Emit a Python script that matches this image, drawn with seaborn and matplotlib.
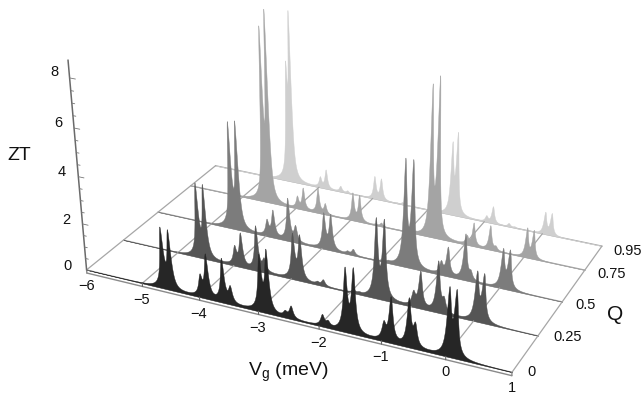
import numpy as np
import matplotlib
matplotlib.use("Agg")
import matplotlib.pyplot as plt
import seaborn as sns
from mpl_toolkits.mplot3d import Axes3D  # noqa
from mpl_toolkits.mplot3d.art3d import Poly3DCollection

# ---------- data ----------
q_rows = [0.95, 0.75, 0.5, 0.25, 0]
q_labels = ["0.95", "0.75", "0.5", "0.25", "0"]
v_ticks = [-6, -5, -4, -3, -2, -1, 0, 1]
v_labels = ["\u22126", "\u22125", "\u22124", "\u22123", "\u22122", "\u22121", "0", "1"]
z_ticks = [0, 2, 4, 6, 8]
centers_front = [-4.63, -4.5, -3.98, -3.87, -3.6, -3.47, -2.97, -2.85, -2.56, -2.46,
                 -1.95, -1.86, -1.58, -1.45, -0.97, -0.86, -0.58, -0.48, 0.03, 0.14]
centers_q075 = [-4.6, -4.5, -3.98, -3.87, -3.6, -3.47, -2.97, -2.85, -2.56, -2.46,
                -1.95, -1.86, -1.6, -1.48, -0.97, -0.86, -0.58, -0.48, 0.03, 0.14]
centers_q095 = [-4.59, -4.52, -3.98, -3.87, -3.6, -3.47, -2.97, -2.85, -2.56, -2.46,
                -1.95, -1.86, -1.59, -1.5, -0.97, -0.86, -0.58, -0.48, 0.03, 0.14]
heights_q000 = [2.45, 2.4, .8, 1.8, 1.8, .65, 2.2, 2.5, .2, .5, .45, .2, 2.5, 2.55, .65, 1.8, 1.9, .85, 2.6, 2.55]
heights_q025 = [3.05, 3.05, .75, 1.4, 1.9, .5, 1.85, 1.85, .1, .25, .1, .05, 3.2, 3.2, .55, 1.5, 2.1, .5, 1.95, 1.9]
heights_q050 = [4.45, 4.55, .65, 1.15, 1.85, .65, 1.5, 1.5, .1, .25, .05, .05, 4.4, 4.4, .5, 1.2, 1.95, .3, 1.6, 1.6]
heights_q075 = [7.2, 8.0, .5, .95, 1.1, .45, 1.2, 1.15, .05, .15, .03, .03, 6.3, 6.7, .35, 1.0, 1.05, .15, 1.25, 1.2]
heights_q095 = [4.5, 7.1, .45, .85, .25, .1, 1.0, .95, .03, .1, .02, .02, 3.0, 3.5, .25, .75, .15, .05, .95, .95]
row_heights = [heights_q095, heights_q075, heights_q050, heights_q025, heights_q000]
row_centers = [centers_q095, centers_q075, centers_front, centers_front, centers_front]
row_widths = [.028, .028, .033, .035, .037]

# ---------- style ----------
W, H = 643, 399
sns.set_theme(style="white")
plt.rcParams["font.family"] = ["Liberation Sans", "DejaVu Sans"]
row_colors = sns.blend_palette(["#cfcfcf", "#a4a4a4", "#7c7c7c", "#565656", "#262626"], 5)
grid_c = "#a6a6a6"

fig = plt.figure(figsize=(W / 100, H / 100), dpi=100)
fig.patch.set_facecolor("white")
ax = fig.add_axes([0, (1 - W / H) / 2, 1, W / H], projection="3d", computed_zorder=False)
ax.set_proj_type("ortho")
ax.set_axis_off()
ax.apply_aspect()

# ---------- camera: calibrated against the reference's axis corners and ticks ----------
calib = [((-6, 0, 0), (85, 270)), ((1, 0, 0), (513, 372)), ((1, .95, 0), (603, 246)), ((-6, .95, 0), (217, 168)),
         ((-6, 0, 2), (82, 225)), ((-6, 0, 4), (78, 177)), ((-6, 0, 6), (74, 127)), ((-6, 0, 8), (72, 77)),
         ((-5, 0, 0), (141, 283)), ((-4, 0, 0), (198, 297)), ((-3, 0, 0), (257, 310)), ((-2, 0, 0), (318, 325)),
         ((-1, 0, 0), (382, 340)), ((0, 0, 0), (447, 355)),
         ((1, .25, 0), (540, 334)), ((1, .5, 0), (562, 302)), ((1, .75, 0), (583, 271)),
         ((-6, .25, 0), (125, 240)), ((-6, .5, 0), (160, 213)), ((-6, .75, 0), (190, 187)),
         ((-4.5, .75, 8.6), (264, 7)), ((-4.5, .95, 7.5), (288, 13)), ((-1.45, .75, 7.0), (439, 74)),
         ((1, 0, 8), (522, 172))]
inv = ax.transData.inverted()
rows = []
for (x, y, z), (px, py) in calib:
    u, v = inv.transform((px, H - py))
    rows.append([x, y, z, 1, 0, 0, 0, 0, -u * x, -u * y, -u * z, -u])
    rows.append([0, 0, 0, 0, x, y, z, 1, -v * x, -v * y, -v * z, -v])
P = np.linalg.svd(np.array(rows, float))[2][-1].reshape(3, 4)
if P[2, 3] < 0:
    P = -P
M = np.array([P[0], P[1], [0.1, 0.3, 0.05, 0.2], P[2]])
ax.get_proj = lambda: M


def line(xs, ys, zs, color=grid_c, lw=0.9, z=1):
    ax.plot(xs, ys, zs, color=color, lw=lw, zorder=z, solid_capstyle="round")


# ---------- peaks and floor grid, back to front ----------
v = np.linspace(-6, 1, 3500)
order = 1
for i, (q, hs, cs, gam, col) in enumerate(zip(q_rows, row_heights, row_centers, row_widths, row_colors)):
    line([-6, 1], [q, q], [0, 0], z=order)
    order += 1
    if i > 0:
        for vt in v_ticks[1:-1]:
            line([vt, vt], [q, q_rows[i - 1]], [0, 0], z=order)
    line([-6, -6], [q, q_rows[max(i - 1, 0)]], [0, 0], z=order)
    line([1, 1], [q, q_rows[max(i - 1, 0)]], [0, 0], z=order)
    order += 1
    zt = np.zeros_like(v)
    for c, h in zip(cs, hs):
        zt += h / (1 + ((v - c) / gam) ** 2)
    verts = np.column_stack([v, np.full_like(v, q), zt])
    verts = np.vstack([[-6, q, 0], verts, [1, q, 0]])
    poly = Poly3DCollection([verts], facecolor=col, edgecolor=col, linewidth=0.3, zorder=order)
    ax.add_collection3d(poly)
    order += 1

# front plate
line([-6, 1], [0, 0], [-.14, -.14], color="#8a8a8a", lw=1.0, z=order)
line([-6, -6], [0, 0], [-.14, 0], color="#8a8a8a", lw=1.0, z=order)
line([1, 1], [0, 0], [-.14, 0], color="#8a8a8a", lw=1.0, z=order)
for vt in v_ticks[1:-1]:
    line([vt, vt], [0, 0], [-.14, 0], color="#666666", lw=0.8, z=order)

# ZT axis and its ticks
line([-6, -6], [0, 0], [0, 8.7], color="#6a6a6a", lw=1.1, z=order)
for zt_val in np.arange(0, 8.5, 0.5):
    length = .1 if zt_val % 2 == 0 else .05
    line([-6, -6 + length], [0, 0], [zt_val, zt_val], color="#777777", lw=0.6, z=order)


def px_text(x, y, s, size):
    fig.text(x / W, 1 - y / H, s, fontsize=size, ha="center", va="center", color="#111111")


for x, y, s in zip([87, 142, 199, 258, 319, 381, 445, 512], [286, 300, 314, 328, 343, 357, 372, 388], v_labels):
    px_text(x, y, s, 10.5)
for x, y, s in zip([628, 612, 586, 568, 531], [251, 274, 305, 337, 372], q_labels):
    px_text(x, y, s, 10.5)
for x, y, s in zip([68, 66, 62, 58, 54], [266, 220, 172, 123, 72], z_ticks):
    px_text(x, y, str(s), 10.5)
px_text(19, 156, "ZT", 14)
px_text(615, 315, "Q", 15)
px_text(288, 372, r"V$_{\mathregular{g}}$ (meV)", 14)

fig.savefig("out.png", dpi=100, facecolor="white")
